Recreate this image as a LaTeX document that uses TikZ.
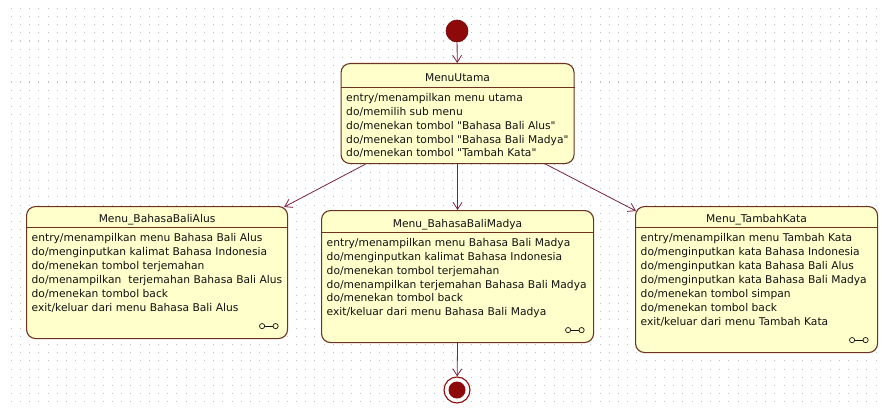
\documentclass[tikz,border=0pt]{standalone}
\usepackage{fontspec}
\setmainfont{DejaVu Sans}
\usetikzlibrary{arrows.meta,calc}

\definecolor{stateborder}{HTML}{6E3320}
\definecolor{statefill}{HTML}{FFFFCC}
\definecolor{transline}{HTML}{7A2440}
\definecolor{griddot}{HTML}{C2C2C2}
\definecolor{pseudored}{HTML}{8E0A0A}
\definecolor{labeltext}{HTML}{111111}

\newcommand{\sq}{\textquotedbl}

\tikzset{
  statebox/.style={draw=stateborder, fill=statefill, line width=1.1pt,
    rounded corners=9pt, inner sep=0pt, anchor=north west},
  statetitle/.style={anchor=base, inner sep=0pt, text=labeltext},
  statebody/.style={anchor=north west, align=left, inner sep=0pt, text=labeltext},
  divider/.style={draw=stateborder, line width=0.9pt},
  trans/.style={draw=transline, line width=0.8pt,
    -{Straight Barb[length=7pt,width=9pt]}},
  linkicon/.pic={
    \draw[labeltext, line width=0.7pt] (0,0) circle (2.6);
    \draw[labeltext, line width=0.7pt] (13.5,0) circle (2.6);
    \draw[labeltext, line width=0.7pt] (2.6,0) -- (10.9,0);
  }
}

\begin{document}
\begin{tikzpicture}[x=1pt, y=-1pt, font=\fontsize{10.7}{13.9}\selectfont]
  \useasboundingbox (0,0) rectangle (882,409);
  \fill[white] (0,0) rectangle (882,409);

  % dotted drawing grid
  \foreach \i in {0,...,95} {
    \foreach \j in {0,...,48} {
      \fill[griddot] (11.2+\i*9.2-0.5, 8.2+\j*8.2-0.5) rectangle ++(1.1,1.1);
    }
  }

  % ---------- states ----------
  \node[statebox, minimum width=233, minimum height=100] (utama) at (340.5,63) {};
  \draw[divider] ([yshift=-24]utama.north west) -- ([yshift=-24]utama.north east);
  \node[statetitle] (utamaT) at ($(utama.north)+(0,19)$) {MenuUtama};
  \node[statebody] (utamaB) at ($(utama.north west)+(5.5,30)$) {%
    entry/menampilkan menu utama\\
    do/memilih sub menu\\
    do/menekan tombol \sq Bahasa Bali Alus\sq\\
    do/menekan tombol \sq Bahasa Bali Madya\sq\\
    do/menekan tombol \sq Tambah Kata\sq};

  \node[statebox, minimum width=261, minimum height=132] (alus) at (26,206) {};
  \draw[divider] ([yshift=-21.5]alus.north west) -- ([yshift=-21.5]alus.north east);
  \node[statetitle] (alusT) at ($(alus.north)+(0,16.5)$) {Menu\_BahasaBaliAlus};
  \node[statebody] (alusB) at ($(alus.north west)+(5.5,27.5)$) {%
    entry/menampilkan menu Bahasa Bali Alus\\
    do/menginputkan kalimat Bahasa Indonesia\\
    do/menekan tombol terjemahan\\
    do/menampilkan\ \ terjemahan Bahasa Bali Alus\\
    do/menekan tombol back\\
    exit/keluar dari menu Bahasa Bali Alus};
  \pic at ($(alus.south east)+(-26,-13)$) {linkicon};

  \node[statebox, minimum width=272, minimum height=132] (madya) at (321,210) {};
  \draw[divider] ([yshift=-22]madya.north west) -- ([yshift=-22]madya.north east);
  \node[statetitle] (madyaT) at ($(madya.north)+(0,17)$) {Menu\_BahasaBaliMadya};
  \node[statebody] (madyaB) at ($(madya.north west)+(5.5,28)$) {%
    entry/menampilkan menu Bahasa Bali Madya\\
    do/menginputkan kalimat Bahasa Indonesia\\
    do/menekan tombol terjemahan\\
    do/menampilkan terjemahan Bahasa Bali Madya\\
    do/menekan tombol back\\
    exit/keluar dari menu Bahasa Bali Madya};
  \pic at ($(madya.south east)+(-26,-13)$) {linkicon};

  \node[statebox, minimum width=242, minimum height=146] (tambah) at (635,206) {};
  \draw[divider] ([yshift=-21.5]tambah.north west) -- ([yshift=-21.5]tambah.north east);
  \node[statetitle] (tambahT) at ($(tambah.north)+(0,16.5)$) {Menu\_TambahKata};
  \node[statebody] (tambahB) at ($(tambah.north west)+(5.5,27.5)$) {%
    entry/menampilkan menu Tambah Kata\\
    do/menginputkan kata Bahasa Indonesia\\
    do/menginputkan kata Bahasa Bali Alus\\
    do/menginputkan kata Bahasa Bali Madya\\
    do/menekan tombol simpan\\
    do/menekan tombol back\\
    exit/keluar dari menu Tambah Kata};
  \pic at ($(tambah.south east)+(-26,-13)$) {linkicon};

  % ---------- pseudo states ----------
  \node[circle, fill=pseudored, draw=pseudored!80!black, line width=0.6pt,
        minimum size=22, inner sep=0pt] (init) at (457,31) {};
  \node[circle, fill=white, draw=pseudored, line width=1.1pt,
        minimum size=26, inner sep=0pt] (final) at (457,390) {};
  \node[circle, fill=pseudored, minimum size=17, inner sep=0pt] (finalcore) at (final) {};

  % ---------- transitions ----------
  \draw[trans] (init) -- (utama);
  \draw[trans] ([xshift=-92]utama.south) -- ([xshift=-4,yshift=-1]alus.north east);
  \draw[trans] (utama.south) -- (madya.north);
  \draw[trans] ([xshift=88]utama.south) -- ([xshift=1,yshift=-5]tambah.north west);
  \draw[trans] (madya.south) -- (final);
\end{tikzpicture}
\end{document}
